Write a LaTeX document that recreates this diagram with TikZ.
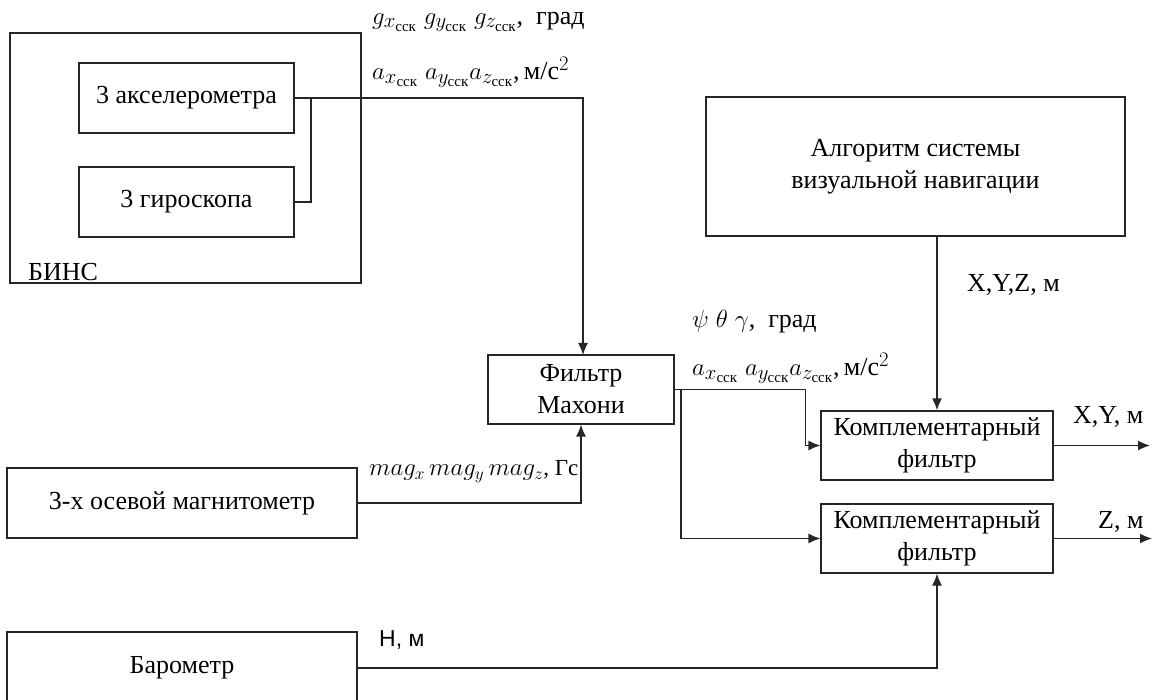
\documentclass[tikz,border=0pt]{standalone}
\usepackage{amsmath}
\usepackage{fontspec}
\setmainfont{Liberation Serif}
\newfontfamily\lsans{Liberation Sans}
\newfontfamily\lserif{Liberation Serif}
\usetikzlibrary{arrows.meta}
\newcommand{\bgmath}[1]{{\fontsize{30}{32}\selectfont$#1$}}
\tikzset{
  blk/.style={draw=black!85, line width=1.2pt, minimum width=#1, inner sep=0pt, align=center,
    font=\lserif\fontsize{26}{32}\selectfont},
  blk/.default=215pt,
  lbl/.style={anchor=west, inner sep=0pt, font=\lserif\fontsize{26}{32}\selectfont},
  conn/.style={draw=black!85, line width=1.3pt},
  arr/.style={conn, -{Latex[length=12pt,width=10pt]}},
}
\begin{document}
\begin{tikzpicture}[x=1pt,y=-1pt]
\useasboundingbox (0,0) rectangle (1160,700);
\clip (0,0) rectangle (1160,700);
% BINS group
\node[blk=351pt, minimum height=250pt] (bins) at (185.5,158) {};
\node[lbl] (binslbl) at (28,272) {БИНС};
\node[blk=215pt, minimum height=70pt] (accel) at (186.5,98) {3 акселерометра};
\node[blk=215pt, minimum height=70pt] (gyro) at (186.5,202) {3 гироскопа};
% other blocks
\node[blk=186pt, minimum height=69pt] (mahony) at (581,389.5) {Фильтр\\Махони};
\node[blk=419pt, minimum height=139pt, line width=2.6pt] (algo) at (915.5,166.5) {Алгоритм системы\\визуальной навигации};
\node[blk=232pt, minimum height=69pt] (comp1) at (937,445.5) {Комплементарный\\фильтр};
\node[blk=232pt, minimum height=69pt] (comp2) at (937,538.5) {Комплементарный\\фильтр};
\node[blk=350pt, minimum height=70pt] (mag) at (182,503) {3-х осевой магнитометр};
\node[blk=350pt, minimum height=72pt] (baro) at (182,668) {Барометр};
% coordinates
\coordinate (j) at (311,98);
\coordinate (mtop) at (583,355);
\coordinate (split) at (681,389.5);
\coordinate (out1) at (1150,445.5);
\coordinate (out2) at (1152,538.5);
% connectors
\draw[arr] (accel.east) -| (mtop);
\draw[conn] (gyro.east) -| (j);
\draw[arr] (mag.east) -| (mahony.south);
\draw[arr] (mahony.east) -- ++(131,0) |- (comp1.west);
\draw[arr] (split) |- (comp2.west);
\draw[arr, line width=1.8pt] (algo.south -| comp1.north) -- (comp1.north);
\draw[arr] (baro.east) -| (comp2.south);
\draw[arr] (comp1.east) -- (out1);
\draw[arr] (comp2.east) -- (out2);
% labels
\node[lbl] (lg) at (372,22) {\bgmath{g_{x_{\text{сск}}}\;g_{y_{\text{сск}}}\;g_{z_{\text{сск}}}},\ \ град};
\node[lbl] (la) at (372,72) {\bgmath{a_{x_{\text{сск}}}\;a_{y_{\text{сск}}}a_{z_{\text{сск}}}},\,м/с\bgmath{^2}};
\node[lbl] (lpsi) at (692,322) {$\psi\;\theta\;\gamma$, \ град};
\node[lbl] (la2) at (692,368) {\bgmath{a_{x_{\text{сск}}}\;a_{y_{\text{сск}}}a_{z_{\text{сск}}}},\,м/с\bgmath{^2}};
\node[lbl, font=\lserif\fontsize{23}{28}\selectfont] (lmag) at (369,472) {$mag_x\,mag_y\,mag_z$, Гс};
\node[lbl, font=\lsans\fontsize{23}{27}\selectfont] (lh) at (379,640) {H, м};
\node[lbl] (lxyz) at (967,285) {X,Y,Z, м};
\node[lbl] (lxy) at (1073,417) {X,Y, м};
\node[lbl] (lz) at (1098,522) {Z, м};
\end{tikzpicture}
\end{document}
